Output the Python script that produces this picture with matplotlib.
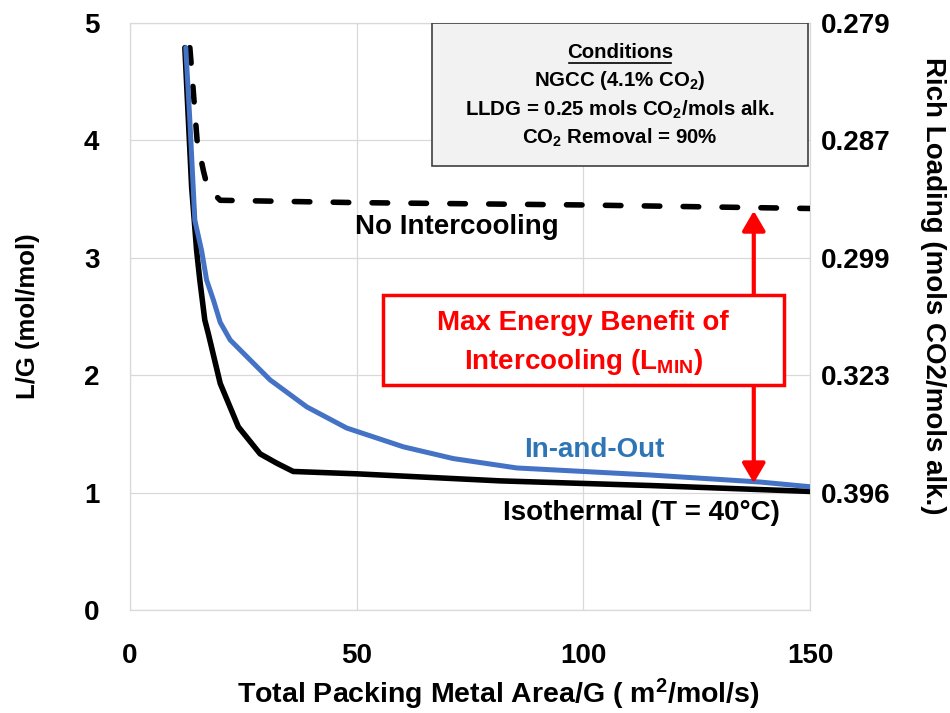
import matplotlib
matplotlib.use("Agg")
import matplotlib.pyplot as plt
from matplotlib.patches import Rectangle, FancyArrowPatch, ArrowStyle

plt.rcParams['font.family'] = ['Liberation Sans', 'DejaVu Sans']
plt.rcParams['font.weight'] = 'bold'
plt.rcParams['mathtext.fontset'] = 'custom'
plt.rcParams['mathtext.rm'] = 'Liberation Sans:bold'
plt.rcParams['mathtext.it'] = 'Liberation Sans:bold:italic'
plt.rcParams['mathtext.bf'] = 'Liberation Sans:bold'

# ---- data ----
iso_x = [12.1, 13.6, 14.7, 15.4, 16.5, 17.3, 19.9, 23.9, 28.7, 32.4, 36.0, 50, 81.6, 115, 150]
iso_y = [4.79, 3.60, 3.06, 2.81, 2.47, 2.35, 1.93, 1.56, 1.33, 1.25, 1.18, 1.16, 1.10, 1.06, 1.01]

inout_x = [12.3, 13.2, 14.3, 15.8, 16.9, 18.4, 19.9, 22.1, 30.9, 39.0, 47.8, 60.3, 71.3, 85.3, 114.7, 139, 150]
inout_y = [4.79, 4.17, 3.32, 3.06, 2.81, 2.64, 2.45, 2.30, 1.96, 1.73, 1.55, 1.39, 1.29, 1.21, 1.15, 1.09, 1.05]

noic_x = [13.2, 13.6, 14.8, 16.2, 17.1, 19.9, 50, 100, 150]
noic_y = [4.79, 4.60, 4.00, 3.74, 3.60, 3.49, 3.47, 3.45, 3.42]

x_ticks = [0, 50, 100, 150]
y_ticks = [0, 1, 2, 3, 4, 5]
right_ticks = [1, 2, 3, 4, 5]
right_labels = ['0.396', '0.323', '0.299', '0.287', '0.279']

arrow_x = 137.6
arrow_y_low = 1.08
arrow_y_high = 3.40

# ---- figure ----
fig = plt.figure(figsize=(9.5, 7.13), dpi=100)
ax = fig.add_axes([130/950, 1-610/713, 680/950, 587/713])

def py(p):
    """pixel row -> data y"""
    return (610 - p) / 117.4

grid_c = '#d9d9d9'
ax.set_xlim(0, 150)
ax.set_ylim(0, 5)
ax.set_xticks(x_ticks)
ax.set_yticks(y_ticks)
ax.grid(True, color=grid_c, lw=0.9)
ax.set_axisbelow(True)
for s in ax.spines.values():
    s.set_color(grid_c)
    s.set_linewidth(0.9)
ax.tick_params(axis='both', length=0, labelsize=20)
ax.tick_params(axis='y', pad=22)
ax.tick_params(axis='x', pad=24)

ax.plot(iso_x, iso_y, color='black', lw=4.0, solid_capstyle='round', zorder=3)
ax.plot(inout_x, inout_y, color='#4472C4', lw=3.6, solid_capstyle='round', zorder=4)
ax.plot(noic_x, noic_y, color='black', lw=4.0, linestyle=(0, (2.8, 4.2)),
        dash_capstyle='round', zorder=3)

ax.set_xlabel('Total Packing Metal Area/G ( m$^2$/mol/s)', fontsize=20.5, fontweight='bold',
              va='center')
ax.xaxis.set_label_coords((498-130)/680, -(694-610)/587)
ax.set_ylabel('L/G (mol/mol)', fontsize=18.5, fontweight='bold', va='center')
ax.yaxis.set_label_coords(-(130-28)/680, 0.5)

ax2 = ax.twinx()
ax2.set_ylim(0, 5)
ax2.set_yticks(right_ticks)
ax2.set_yticklabels(right_labels)
ax2.tick_params(axis='y', length=0, labelsize=20, pad=8)
for s in ax2.spines.values():
    s.set_visible(False)
ax2.set_ylabel('Rich Loading (mols CO2/mols alk.)', fontsize=20, fontweight='bold',
               rotation=270, va='center')
ax2.yaxis.set_label_coords(1 + (933-810)/680, 1 - (286-23)/587)

# annotations
ax.text(72.2, 3.26, 'No Intercooling', fontsize=20, fontweight='bold', color='black',
        ha='center', va='center', zorder=6)
ax.text(102.4, 1.36, 'In-and-Out', fontsize=20, fontweight='bold', color='#2E75B6',
        ha='center', va='center', zorder=6)
ax.text(112.8, 0.83, 'Isothermal (T = 40°C)', fontsize=20, fontweight='bold', color='black',
        ha='center', va='center', zorder=6)

# arrow
arr = FancyArrowPatch((arrow_x, arrow_y_low), (arrow_x, arrow_y_high),
                      arrowstyle=ArrowStyle('<|-|>', head_length=12, head_width=7),
                      mutation_scale=1, color='red', lw=3.0, shrinkA=0, shrinkB=0,
                      zorder=5)
ax.add_patch(arr)

# red box
ax.add_patch(Rectangle((55.8, py(385)), 144.3-55.8, py(295)-py(385), facecolor='white',
                       edgecolor='red', lw=2.5, zorder=7))
ax.text(100.0, py(323), 'Max Energy Benefit of', fontsize=20, fontweight='bold',
        color='red', ha='center', va='center', zorder=8)
ax.text(100.0, py(362), 'Intercooling (L$_{\\mathrm{MIN}}$)', fontsize=20,
        fontweight='bold', color='red', ha='center', va='center', zorder=8)

# conditions box
ax.add_patch(Rectangle((66.6, py(166)), 149.6-66.6, py(23)-py(166), facecolor='#f2f2f2',
                       edgecolor='#404040', lw=1.2, zorder=7))
cx = (66.6 + 149.6) / 2
ax.text(cx, py(52.7), 'Conditions', fontsize=14.7, fontweight='bold',
        ha='center', va='center', zorder=8)
ax.plot([cx-11.3, cx+11.3], [py(63)]*2, color='black', lw=1.2, zorder=8)
ax.text(cx, py(80), 'NGCC (4.1% CO$_2$)', fontsize=14.7, fontweight='bold',
        ha='center', va='center', zorder=8)
ax.text(cx, py(110), 'LLDG = 0.25 mols CO$_2$/mols alk.', fontsize=14.7,
        fontweight='bold', ha='center', va='center', zorder=8)
ax.text(cx, py(138), 'CO$_2$ Removal = 90%', fontsize=14.7, fontweight='bold',
        ha='center', va='center', zorder=8)

fig.savefig('out.png', dpi=100)
